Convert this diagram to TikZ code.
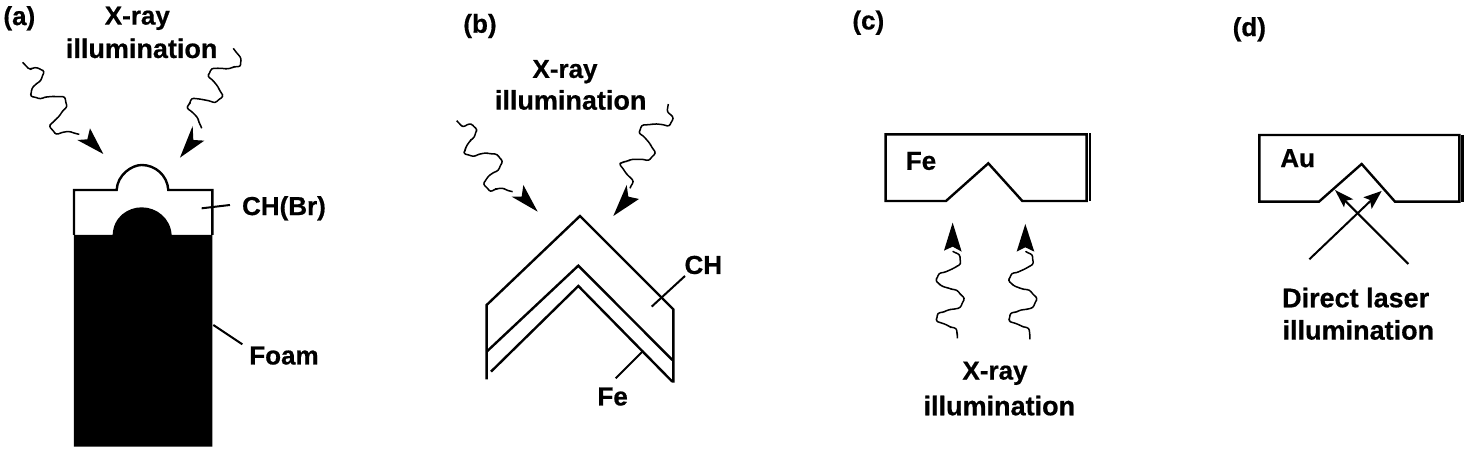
\documentclass[tikz,border=0pt]{standalone}
\usepackage{fontspec}
\setmainfont{Liberation Sans}[BoldFeatures={FakeBold=0.6}]
\usetikzlibrary{decorations.pathmorphing}
\tikzset{
  lbl/.style={font=\fontsize{26}{26}\selectfont\bfseries,inner sep=0pt,text=black},
  lblw/.style={font=\fontsize{27}{27}\selectfont\bfseries,inner sep=0pt,text=black},
  tgt/.style={line width=2.4pt,black,line join=miter},
  lead/.style={line width=2pt,black},
  wave/.style={line width=1.5pt,black,line join=round,rounded corners=2.5pt,
    decorate,decoration={random steps,segment length=3.5pt,amplitude=.4pt}},
  headf/.style={fill=black,draw=none},
  zm/.style={x=.3333pt,y=-.3333pt}
}
\begin{document}
\begin{tikzpicture}[x=1pt,y=-1pt]
\useasboundingbox (0,0) rectangle (1467,453);
\fill[white] (0,0) rectangle (1467,453);
% ---------- (a)
\begin{scope}[zm]
\node[lbl] (la) at (58,55) {(a)};
\node[lbl] (xa) at (412,55) {X-ray};
\node[lblw] (ia) at (425,145) {illumination};
\node[lbl] (cha) at (852,625) {CH(Br)};
\node[lbl] (foa) at (852,1067) {Foam};
\fill (222,705) -- (338,705) .. controls (340,650) and (385,622) .. (425,622)
  .. controls (470,622) and (512,655) .. (515,705) -- (637,705) -- (637,1340) -- (222,1340) -- cycle;
\draw[tgt] (222,705) -- (222,570) -- (350,570) .. controls (352,525) and (395,495) .. (425,495)
  .. controls (465,495) and (502,525) .. (505,570) -- (637,570) -- (637,705);
\coordinate (a1) at (605,625); \coordinate (a2) at (640,975);
\draw[lead] (a1) -- (690,615);
\draw[lead] (a2) -- (727,1033);
\draw[wave] (68,187)--(85,205)--(105,203)--(130,212)--(125,235)--(100,260)--(92,285)--(115,295)--(150,290)--(190,290)--(200,315)--(180,345)--(150,375)--(165,400)--(200,395)--(238,403);
\fill[headf] (310,462) -- (232,420) -- (262,418) -- (270,385) -- cycle;
\draw[wave] (700,145)--(720,170)--(722,195)--(690,205)--(640,205)--(625,225)--(650,255)--(668,285)--(650,305)--(580,295)--(562,320)--(590,350)--(605,385);
\fill[headf] (540,473) -- (578,378) -- (580,420) -- (613,422) -- cycle;
\end{scope}
% ---------- (b)
\begin{scope}[zm,shift={(440pt,0pt)}]
\node[lbl] (lb) at (120,78) {(b)};
\node[lbl] (xb) at (375,215) {X-ray};
\node[lblw] (ib) at (392,300) {illumination};
\node[lbl] (chb) at (790,795) {CH};
\node[lbl] (feb) at (518,1190) {Fe};
\draw[tgt] (140,1138) -- (140,915) -- (420,648) -- (700,928) -- (700,1148);
\draw[tgt] (140,1055) -- (415,797) -- (697,1080);
\draw[tgt] (153,1115) -- (415,858) -- (697,1145);
\draw[lead] (635,920) -- (735,828);
\draw[lead] (527,1135) -- (610,1052);
\draw[wave] (50,362)--(65,378)--(88,372)--(108,385)--(105,405)--(85,430)--(72,458)--(95,468)--(130,460)--(165,462)--(185,480)--(178,505)--(150,525)--(132,548)--(148,572)--(180,565)--(218,575);
\fill[headf] (293,635) -- (215,590) -- (245,590) -- (250,555) -- cycle;
\draw[wave] (685,312)--(682,330)--(698,350)--(690,375)--(650,372)--(610,375)--(598,395)--(625,425)--(645,455)--(630,478)--(580,478)--(540,490)--(555,515)--(578,540)--(570,565);
\fill[headf] (520,648) -- (560,555) -- (565,590) -- (597,597) -- cycle;
\end{scope}
% ---------- (c)
\begin{scope}[zm,shift={(840pt,0pt)}]
\node[lbl] (lc) at (85,68) {(c)};
\node[lbl] (fec) at (243,483) {Fe};
\node[lbl] (xc) at (465,1120) {X-ray};
\node[lblw] (ic) at (478,1217) {illumination};
\draw[tgt] (137,403) -- (740,403) -- (740,603) -- (547,603) -- (445,490) -- (318,603) -- (137,603) -- cycle;
\draw[tgt] (750,400) -- (750,603);
\draw[wave] (352,1015)--(350,990)--(320,975)--(292,965)--(292,945)--(320,932)--(355,925)--(372,900)--(355,875)--(310,860)--(290,845)--(295,825)--(330,810)--(358,795)--(360,770)--(340,755);
\fill[headf] (338,668) -- (312,752) -- (338,740) -- (365,755) -- cycle;
\draw[wave] (570,1018)--(568,990)--(538,975)--(510,965)--(510,945)--(538,932)--(573,925)--(590,900)--(573,875)--(528,860)--(508,845)--(513,825)--(548,810)--(576,795)--(578,770)--(558,755);
\fill[headf] (556,672) -- (530,755) -- (556,742) -- (583,755) -- cycle;
\end{scope}
% ---------- (d)
\begin{scope}[zm,shift={(1200pt,0pt)}]
\node[lbl] (ld) at (148,88) {(d)};
\node[lbl] (aud) at (293,475) {Au};
\node[lblw] (dd) at (467,893) {Direct laser};
\node[lblw] (id) at (475,990) {illumination};
\draw[tgt] (178,405) -- (778,405) -- (778,605) -- (585,605) -- (485,492) -- (357,605) -- (178,605) -- cycle;
\draw[tgt] (787,405) -- (787,605);
\draw[lead] (328,778) -- (525,590);
\fill[headf] (545,573) -- (515,627) -- (510,600) -- (490,592) -- cycle;
\draw[lead] (625,792) -- (425,592);
\fill[headf] (405,570) -- (460,598) -- (437,602) -- (432,622) -- cycle;
\end{scope}
\end{tikzpicture}
\end{document}
